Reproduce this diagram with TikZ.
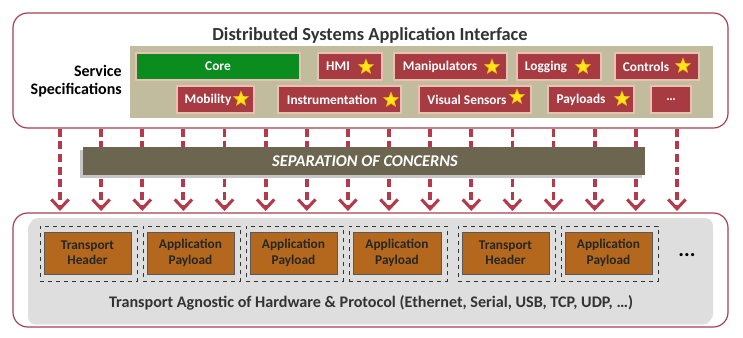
\documentclass[tikz,border=0pt]{standalone}
\usepackage{fontspec}
\setmainfont{Carlito}
\usetikzlibrary{shapes.geometric,arrows.meta,shadows,fit}
\definecolor{frame}{HTML}{A8404F}
\definecolor{tanpanel}{HTML}{C2BC9E}
\definecolor{boxred}{HTML}{A83A42}
\definecolor{pinkb}{HTML}{EBC0B4}
\definecolor{coregreen}{HTML}{0B8C1F}
\definecolor{sepbar}{HTML}{6C6550}
\definecolor{graypanel}{HTML}{DEDEDE}
\definecolor{brownbox}{HTML}{B3681D}
\definecolor{arrowred}{HTML}{B23A4A}
\definecolor{staryellow}{HTML}{FFE51A}
\definecolor{textgray}{HTML}{333333}
\begin{document}
\begin{tikzpicture}[x=0.75pt,y=-0.75pt,
  frm/.style={draw=frame,line width=0.9pt,rounded corners=11pt,fill=white,inner sep=0pt},
  rb/.style={draw=pinkb,line width=0.8pt,fill=boxred,inner sep=0pt},
  gb/.style={draw=pinkb,line width=0.8pt,fill=coregreen,inner sep=0pt},
  wt/.style={text=white,font=\bfseries\fontsize{10}{12}\selectfont,inner sep=0pt},
  st/.style={star,star points=5,star point ratio=2.3,fill=staryellow,draw=orange!70!yellow,line width=0.3pt,minimum size=12pt,inner sep=0pt},
  dbox/.style={draw=black!80,dashed,line width=0.6pt,inner sep=0pt},
  brb/.style={draw=black!65,line width=0.6pt,fill=brownbox,inner sep=0pt},
  bt/.style={text=black!85,font=\bfseries\fontsize{10}{11.5}\selectfont,align=center,inner sep=0pt},
  arr/.style={draw=arrowred,line width=2.9pt,dash pattern=on 6pt off 3.5pt,-{Straight Barb[length=7pt,width=13pt,line width=2.3pt]}}
]
\useasboundingbox (0,0) rectangle (743,337);
% top frame
\node[frm,fit={(13,13)(728,128)}] (top) {};
\node[font=\bfseries\fontsize{13.8}{15}\selectfont,text=textgray] (title) at (370,35) {Distributed Systems Application Interface};
\node[fill=tanpanel,inner sep=0pt,fit={(130,46)(713,118)}] (panel) {};
\node[font=\bfseries\fontsize{12}{14}\selectfont,align=right,anchor=east,inner sep=0pt] (svc) at (122,81) {Service\\Specifications};
% row 1
\node[gb,fit={(136,53)(300,80)}] (core) {};
\node[wt] (coret) at (218,66.5) {Core};
\node[rb,fit={(318,53)(382,80)}] (hmi) {};
\node[wt] (hmit) at (338,66.5) {HMI};
\node[st] (s1) at (366,67) {};
\node[rb,fit={(394,53)(507,80)}] (man) {};
\node[wt] (mant) at (440,66.5) {Manipulators};
\node[st] (s2) at (492,67) {};
\node[rb,fit={(517,53)(601,80)}] (log) {};
\node[wt] (logt) at (546,66.5) {Logging};
\node[st] (s3) at (583,67) {};
\node[rb,fit={(615,53)(699,80)}] (ctl) {};
\node[wt] (ctlt) at (646,66.5) {Controls};
\node[st] (s4) at (683,66) {};
% row 2
\node[rb,fit={(177,86)(254,113)}] (mob) {};
\node[wt] (mobt) at (208,99.5) {Mobility};
\node[st] (s5) at (241,99) {};
\node[rb,fit={(278,86)(401,113)}] (ins) {};
\node[wt] (inst) at (332,99.5) {Instrumentation};
\node[st] (s6) at (391,100) {};
\node[rb,fit={(419,86)(531,113)}] (vis) {};
\node[wt] (vist) at (467,99.5) {Visual Sensors};
\node[st] (s7) at (517,97) {};
\node[rb,fit={(548,86)(634,113)}] (pay) {};
\node[wt] (payt) at (581,99.5) {Payloads};
\node[st] (s8) at (622,99) {};
\node[rb,fit={(651,86)(691,113)}] (more) {};
\node[wt] (moret) at (671,99.5) {…};
% bottom frame
\node[frm,fit={(13,213)(728,327)}] (bot) {};
\node[fill=graypanel,rounded corners=6pt,inner sep=0pt,drop shadow={opacity=0.25,shadow xshift=-1.5pt,shadow yshift=-2pt},fit={(30,218)(713,322)}] (gpanel) {};
% arrows
\foreach \i in {0,...,15}{
  \coordinate (a\i) at ({60+41.13*\i},128.5);
  \coordinate (b\i) at ({60+41.13*\i},211);
  \draw[arr] (a\i) -- (b\i);
}
% separation bar
\node[fill=sepbar,inner sep=0pt,drop shadow={opacity=0.45,shadow xshift=-2pt,shadow yshift=-2pt},fit={(83,147)(645,175)}] (sep) {};
\node[text=white,font=\bfseries\itshape\fontsize{12.3}{13}\selectfont] (sept) at (365,161) {SEPARATION OF CONCERNS};
% packets
\foreach \n/\xa/\xb/\l in {1/40/137/{Transport\\Header},2/143/240/{Application\\Payload},3/246/343/{Application\\Payload},4/349/447/{Application\\Payload},5/458/555/{Transport\\Header},6/561/658/{Application\\Payload}}{
  \node[dbox,fit={(\xa,226)(\xb,281)}] (d\n) {};
  \node[brb,fit={(\xa+4,232)(\xb-6,274)}] (p\n) {};
  \node[bt] (t\n) at (p\n.center) {\l};
}
\node[font=\bfseries\fontsize{16}{16}\selectfont] (dots) at (687,255) {...};
\node[font=\bfseries\fontsize{12.1}{14}\selectfont,text=textgray] (proto) at (371,303) {Transport Agnostic of Hardware \& Protocol (Ethernet, Serial, USB, TCP, UDP, …)};
\end{tikzpicture}
\end{document}
